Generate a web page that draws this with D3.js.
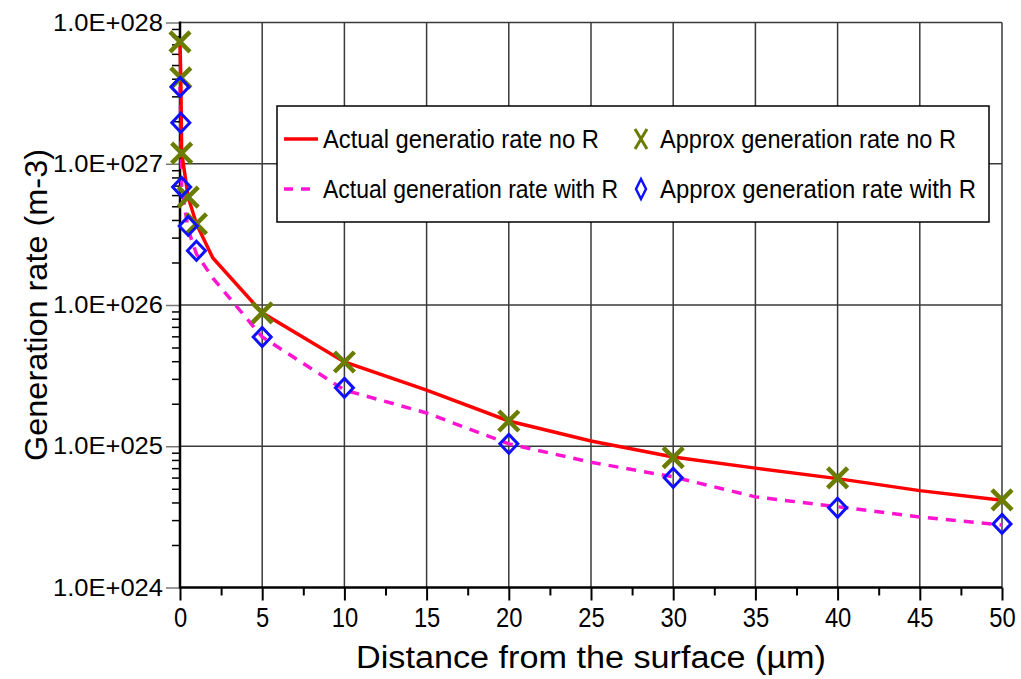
<!DOCTYPE html>
<html>
<head>
<meta charset="utf-8">
<script src="https://cdn.jsdelivr.net/npm/d3@7"></script>
<style>
  body { margin: 0; background: #fff; }
  text { font-family: "Liberation Sans", Arial, sans-serif; fill: #000; }
</style>
</head>
<body>
<div id="chart"></div>
<script>
// values
var xTicks = [0, 5, 10, 15, 20, 25, 30, 35, 40, 45, 50];
var xMinor = [2.5, 7.5, 12.5, 17.5, 22.5, 27.5, 32.5, 37.5, 42.5, 47.5];
var yTicks = [1e24, 1e25, 1e26, 1e27, 1e28];

var actualNoR_x = [0, 0.05, 0.1, 0.5, 1, 2, 5, 10, 15, 20, 25, 30, 35, 40, 45, 50];
var actualNoR_y = [7.3e27, 4.0e27, 1.2e27, 5.8e26, 3.75e26, 2.15e26, 8.8e25, 3.95e25, 2.5e25, 1.51e25, 1.09e25, 8.4e24, 7.0e24, 5.9e24, 4.85e24, 4.15e24];

var actualR_x = [0, 0.05, 0.1, 0.5, 1, 2, 5, 10, 15, 20, 25, 30, 35, 40, 45, 50];
var actualR_y = [3.5e27, 1.95e27, 6.85e26, 3.4e26, 2.3e26, 1.55e26, 5.94e25, 2.5e25, 1.72e25, 1.04e25, 7.7e24, 6.07e24, 4.38e24, 3.73e24, 3.16e24, 2.77e24];

var approxNoR_x = [0, 0.05, 0.1, 0.5, 1, 5, 10, 20, 30, 40, 50];
var approxNoR_y = [7.3e27, 4.05e27, 1.19e27, 5.8e26, 3.75e26, 8.8e25, 3.95e25, 1.51e25, 8.3e24, 5.98e24, 4.17e24];

var approxR_x = [0, 0.05, 0.1, 0.5, 1, 5, 10, 20, 30, 40, 50];
var approxR_y = [3.5e27, 1.95e27, 6.85e26, 3.63e26, 2.42e26, 5.94e25, 2.59e25, 1.04e25, 5.98e24, 3.67e24, 2.82e24];

var legendLabels = ["Actual generatio rate no R", "Approx generation rate no R",
                    "Actual generation rate with R", "Approx generation rate with R"];

var W = 1021, H = 679;
var pLeft = 180, pRight = 1002, pTop = 22.5, pBottom = 587.5;

var svg = d3.select("#chart").append("svg")
  .attr("width", W).attr("height", H);

var x = d3.scaleLinear().domain([0, 50]).range([pLeft, pRight]);
var y = d3.scaleLog().domain([1e24, 1e28]).range([pBottom, pTop]);

// grid
var grid = svg.append("g");
grid.selectAll(".vg").data(xTicks.slice(1)).enter().append("line")
  .attr("x1", d => x(d)).attr("x2", d => x(d))
  .attr("y1", pTop).attr("y2", pBottom)
  .style("stroke", "#3a3a3a").style("stroke-width", 1.5);
grid.selectAll(".hg").data(yTicks.slice(1)).enter().append("line")
  .attr("x1", pLeft).attr("x2", pRight)
  .attr("y1", d => y(d)).attr("y2", d => y(d))
  .style("stroke", "#3a3a3a").style("stroke-width", 1.5);

// minor y ticks
var yMinor = [];
for (var e = 24; e < 28; e++) {
  for (var m = 2; m <= 9; m++) yMinor.push(m * Math.pow(10, e));
}

var yAxisMinor = svg.append("g").attr("transform", "translate(" + pLeft + ",0)")
  .call(d3.axisLeft(y).tickValues(yMinor).tickSize(8).tickFormat(""));
yAxisMinor.select(".domain").remove();
yAxisMinor.selectAll("line").style("stroke", "#000").style("stroke-width", 1.5);

var yAxis = svg.append("g").attr("transform", "translate(" + pLeft + ",0)")
  .call(d3.axisLeft(y).tickValues(yTicks).tickSize(14).tickPadding(3)
    .tickFormat(d => "1.0E+0" + Math.round(Math.log10(d))));
yAxis.select(".domain").remove();
yAxis.selectAll("line").style("stroke", "#777").style("stroke-width", 1.5);
yAxis.selectAll("text")
  .style("font-size", "24px")
  .attr("textLength", 110).attr("lengthAdjust", "spacingAndGlyphs");

var xAxisMinor = svg.append("g").attr("transform", "translate(0," + pBottom + ")")
  .call(d3.axisBottom(x).tickValues(xMinor).tickSize(8).tickFormat(""));
xAxisMinor.select(".domain").remove();
xAxisMinor.selectAll("line").style("stroke", "#000").style("stroke-width", 2);

var xAxis = svg.append("g").attr("transform", "translate(0," + pBottom + ")")
  .call(d3.axisBottom(x).tickValues(xTicks).tickSize(13).tickPadding(7));
xAxis.select(".domain").remove();
xAxis.selectAll("line").style("stroke", "#000").style("stroke-width", 2);
xAxis.selectAll("text")
  .style("font-size", "28px")
  .attr("transform", "scale(0.85,1)");

// axis lines
svg.append("line").attr("x1", pLeft).attr("x2", pLeft).attr("y1", pTop - 1).attr("y2", pBottom + 1)
  .style("stroke", "#000").style("stroke-width", 2.5);
svg.append("line").attr("x1", pLeft).attr("x2", pRight).attr("y1", pBottom).attr("y2", pBottom)
  .style("stroke", "#000").style("stroke-width", 2.5);

// titles
svg.append("text")
  .attr("transform", "translate(36," + ((pTop + pBottom) / 2) + ") rotate(-90)")
  .attr("text-anchor", "middle").attr("dy", "0.35em")
  .style("font-size", "31px")
  .attr("textLength", 312).attr("lengthAdjust", "spacingAndGlyphs")
  .text("Generation rate (m-3)");

svg.append("text")
  .attr("x", (pLeft + pRight) / 2).attr("y", 657)
  .attr("text-anchor", "middle").attr("dy", "0.35em")
  .style("font-size", "31px")
  .attr("textLength", 470).attr("lengthAdjust", "spacingAndGlyphs")
  .text("Distance from the surface (\u00b5m)");

// lines
var line = d3.line().x(d => x(d[0])).y(d => y(d[1]));

svg.append("path")
  .datum(d3.zip(actualR_x, actualR_y))
  .attr("d", line)
  .style("fill", "none").style("stroke", "#ff14d2").style("stroke-width", 3.5)
  .style("stroke-dasharray", "10,8");

svg.append("path")
  .datum(d3.zip(actualNoR_x, actualNoR_y))
  .attr("d", line)
  .style("fill", "none").style("stroke", "#ff0000").style("stroke-width", 3.5);

// markers
var xMark = "M-10,-10L10,10M-10,10L10,-10";
var diamond = "M0,-9.5L9,0L0,9.5L-9,0Z";

svg.append("g").selectAll("path").data(d3.zip(approxNoR_x, approxNoR_y)).enter()
  .append("path")
  .attr("transform", d => "translate(" + x(d[0]) + "," + y(d[1]) + ")")
  .attr("d", xMark)
  .style("fill", "none").style("stroke", "#6b7d00").style("stroke-width", 4.5);

svg.append("g").selectAll("path").data(d3.zip(approxR_x, approxR_y)).enter()
  .append("path")
  .attr("transform", d => "translate(" + x(d[0]) + "," + y(d[1]) + ")")
  .attr("d", diamond)
  .style("fill", "none").style("stroke", "#1010ff").style("stroke-width", 3);

// legend
var lg = svg.append("g");
lg.append("rect")
  .attr("x", 277).attr("y", 106).attr("width", 712).attr("height", 116)
  .style("fill", "#fff").style("stroke", "#000").style("stroke-width", 1.5);

var rowY = [139, 189];
var txtW = [276, 296, 295, 316];

lg.append("line").attr("x1", 284).attr("x2", 318).attr("y1", rowY[0]).attr("y2", rowY[0])
  .style("stroke", "#ff0000").style("stroke-width", 3.5);
lg.append("line").attr("x1", 284).attr("x2", 318).attr("y1", rowY[1]).attr("y2", rowY[1])
  .style("stroke", "#ff14d2").style("stroke-width", 3.5).style("stroke-dasharray", "9,8");
lg.append("path").attr("transform", "translate(641," + rowY[0] + ")")
  .attr("d", "M-6,-10L6,10M-6,10L6,-10")
  .style("fill", "none").style("stroke", "#6b7d00").style("stroke-width", 3);
lg.append("path").attr("transform", "translate(641," + rowY[1] + ")")
  .attr("d", "M0,-10L5,0L0,10L-5,0Z")
  .style("fill", "none").style("stroke", "#1010ff").style("stroke-width", 2.5);

lg.selectAll("text.lab").data(legendLabels).enter().append("text")
  .attr("x", (d, i) => i % 2 === 0 ? 323 : 660)
  .attr("y", (d, i) => rowY[Math.floor(i / 2)])
  .attr("dy", "0.35em")
  .style("font-size", "25px")
  .attr("textLength", (d, i) => txtW[i]).attr("lengthAdjust", "spacingAndGlyphs")
  .text(d => d);
</script>
</body>
</html>
